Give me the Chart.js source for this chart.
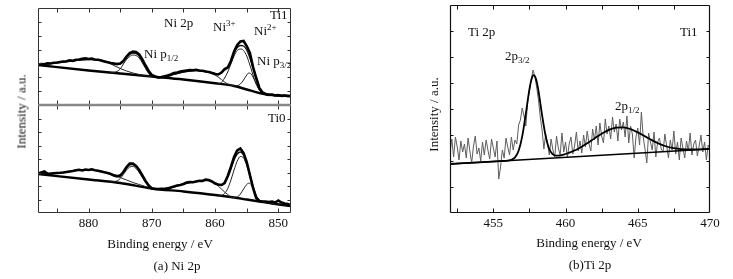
<!DOCTYPE html>
<html lang="en">
  <head>
    <meta charset="UTF-8" />
    <title>XPS Ni 2p / Ti 2p</title>
    <script src="https://cdn.jsdelivr.net/npm/chart.js"></script>
    <style>
      body { margin: 0; background: #fff; }
      .page {
        position: relative;
        width: 733px;
        height: 279px;
        overflow: hidden;
        background: #fff;
        font-family: "Liberation Serif", "Times New Roman", serif;
        color: #111;
      }
      .page canvas { position: absolute; }
      .lbl {
        position: absolute;
        font-size: 13px;
        line-height: 13px;
        white-space: nowrap;
      }
      .lbl sub, .lbl sup { font-size: 9px; line-height: 0; }
      .lbl sub { vertical-align: -3px; }
      .lbl sup { vertical-align: 5px; }
      .center { text-align: center; width: 200px; }
      .ytitle { text-align: center; width: 120px; transform: rotate(-90deg); }
    </style>
  </head>
  <body>
    <div class="page">
      <canvas id="ni1" width="273" height="115" style="left:28px;top:0px"></canvas>
      <canvas id="ni0" width="273" height="137" style="left:28px;top:100px"></canvas>
      <canvas id="ti" width="293" height="240" style="left:440px;top:0px"></canvas>

      <div class="lbl ytitle" style="left:-39px;top:105px">Intensity / a.u.</div>
      <div class="lbl" style="left:164px;top:16px">Ni 2p</div>
      <div class="lbl" style="left:213px;top:20px">Ni<sup>3+</sup></div>
      <div class="lbl" style="left:254px;top:24px">Ni<sup>2+</sup></div>
      <div class="lbl" style="left:270px;top:8px">Ti1</div>
      <div class="lbl" style="left:144px;top:47px">Ni p<sub>1/2</sub></div>
      <div class="lbl" style="left:257px;top:54px">Ni p<sub>3/2</sub></div>
      <div class="lbl" style="left:268px;top:111px">Ti0</div>
      <div class="lbl center" style="left:60px;top:237px">Binding energy / eV</div>
      <div class="lbl center" style="left:77px;top:259px">(a) Ni 2p</div>

      <div class="lbl ytitle" style="left:373px;top:108px">Intensity / a.u.</div>
      <div class="lbl" style="left:468px;top:25px">Ti 2p</div>
      <div class="lbl" style="left:680px;top:25px">Ti1</div>
      <div class="lbl" style="left:505px;top:49px">2p<sub>3/2</sub></div>
      <div class="lbl" style="left:615px;top:99px">2p<sub>1/2</sub></div>
      <div class="lbl center" style="left:489px;top:236px">Binding energy / eV</div>
      <div class="lbl center" style="left:490px;top:258px">(b)Ti 2p</div>
    </div>

    <script>
      // ---- Ni 2p, sample Ti1 (upper panel), scan 848..888 eV every 0.5 eV
      const ti1Data = [
        9, 9, 9.5, 9, 10, 9.5, 10.5, 10, 11, 12.5,
        17, 27, 38, 52, 59, 64, 63.5, 60, 53.5, 44,
        37.5, 36, 32.5, 30.5, 31, 32, 33, 33.5, 34.3, 34.5,
        35.2, 34.7, 35, 34.5, 34, 33.5, 32.5, 32, 30.5, 29.5,
        28.7, 28, 27.5, 28.5, 30, 34, 39.5, 45.5, 50.5, 53,
        53.5, 52, 48.5, 44, 41.5, 41, 41.5, 42, 42.7, 43.5,
        44.5, 45.2, 45.5, 46.5, 46, 46.7, 46.2, 45.5, 45.2, 44.2,
        44.7, 43.8, 43.5, 43, 42.5, 42.2, 41.5, 41.8, 40.7, 41,
        40.5
      ];
      const fitE = [848, 850, 851, 852, 852.5, 853, 853.5, 854, 854.5, 855,
        855.5, 856, 856.5, 857, 857.5, 858, 858.5, 859, 859.5, 860,
        861, 862, 863, 864, 865, 866, 867, 868, 869, 870,
        870.5, 871, 871.5, 872, 872.5, 873, 873.5, 874, 874.5, 875,
        875.5, 876, 877, 878, 880, 882, 884, 886, 888];
      const ti1Fit = [9, 9.5, 10, 10.5, 12, 17, 26, 37, 47, 55,
        59, 59.5, 57.5, 52, 43, 37.5, 35, 32, 31, 31.5,
        33, 34, 34.5, 34, 33, 31.5, 29.5, 28, 27.5, 29,
        32.5, 38, 44, 49, 51.5, 52, 50.5, 47.5, 44, 41,
        40.5, 41, 43, 44.5, 45.5, 44.5, 43, 41.5, 40.5];
      const bgE = [848, 851, 853, 855, 857, 860, 865, 870, 875, 880, 888];
      const ti1Bg = [9, 10, 12, 15.5, 19, 21.7, 25.5, 28.5, 31.5, 34.5, 40];
      const satAE = [870, 871, 872, 873, 874, 875, 876, 877, 878, 880, 882, 884, 886, 888];
      const ti1SatA = [28.5, 29.2, 30.5, 32, 34, 36.5, 39.5, 42.5, 44.5, 45.5, 44.5, 43, 41.5, 40.3];
      const p12E = [870, 870.5, 871, 871.5, 872, 872.5, 873, 873.5, 874, 874.5, 875, 875.5, 876, 876.5];
      const ti1P12 = [28.5, 31.5, 36.5, 42, 47, 49.5, 50, 48.5, 45.5, 41, 36, 33.5, 32.7, 32.4];
      const satBE = [857, 857.5, 858, 858.5, 859, 860, 861, 862, 863, 864, 865, 866, 867, 868, 869];
      const ti1SatB = [19, 20, 21, 23, 25.5, 30, 33, 34, 34.5, 34, 33, 31.5, 30, 28.5, 27.9];
      const mainE = [852.5, 853, 853.5, 854, 854.5, 855, 855.5, 856, 856.5, 857, 857.5, 858, 858.5, 859, 859.5];
      const ti1Main = [11.5, 15, 21, 30, 40, 49, 54.5, 56, 54.5, 49, 41, 33, 27, 22.5, 21.3];
      const smallE = [852.5, 853, 853.5, 854, 854.3, 854.7, 855, 855.5, 856, 856.5, 857];
      const ti1Small = [12.5, 15, 21, 28, 31, 32, 30, 25, 21, 19.2, 19];

      // ---- Ni 2p, sample Ti0 (lower panel)
      const ti0Data = [
        7.5, 9, 9.5, 10.5, 12.5, 10.5, 11.5, 11, 11.5, 11.5,
        12, 15, 25, 38, 51, 60, 64.5, 62.5, 56, 46,
        37, 30, 28, 28.5, 29.5, 31.5, 33, 33.5, 32, 32.3,
        31.5, 30.7, 31, 30.5, 29, 28, 27.5, 26.5, 25.5, 24.5,
        24, 24.2, 24, 24, 24.5, 27.5, 32, 37.5, 43, 47,
        49.5, 49.5, 46, 41, 37.5, 36.5, 37.5, 39, 40, 40.7,
        41.5, 42.2, 42.8, 43.7, 43, 43.5, 42.5, 43.2, 42.7, 42,
        41.5, 41, 40.5, 40.2, 40, 39.7, 39.2, 39.5, 41.5, 40.5,
        39.5
      ];
      const ti0Fit = [7, 8.8, 9.5, 10.5, 11, 12.5, 17, 27, 39, 50,
        58, 61, 59, 53, 44, 36, 30.5, 28, 28.5, 30,
        32.5, 32.5, 31.5, 30.5, 29, 27, 25.5, 24.5, 24, 25,
        27.5, 31.5, 37, 42.5, 46.5, 48.5, 48, 45, 41, 38,
        37.5, 38, 40, 41.5, 43.3, 42.5, 40.5, 39.5, 39.3];
      const ti0Bg = [7, 9.5, 11.5, 13.5, 15.5, 18, 21.5, 24.5, 30, 33.5, 39];
      const ti0SatA = [25, 26.5, 28.5, 30.5, 33, 35.5, 38.2, 40, 41.5, 43.3, 42.5, 40.5, 39.5, 39.3];
      const ti0P12 = [24.5, 27, 30.5, 35.5, 40.5, 44.5, 46.5, 46, 43, 38.5, 34.5, 32, 31.6, 31.4];
      const ti0SatB = [15.5, 16, 18.5, 21, 24, 29.5, 32.5, 32.5, 31.5, 30.5, 29, 27, 25.5, 24.5, 24];
      const ti0Main = [11, 12.5, 16.5, 25, 36.5, 47.5, 55, 56.5, 52, 43, 33, 24.5, 19.5, 17.3, 17];
      const ti0Small = [11, 12.5, 17, 25, 28.5, 29.8, 28.5, 24, 19, 16, 15.5];

      // ---- Ti 2p, sample Ti1, scan 452..470 eV every 0.125 eV
      const tiData = [
        60, 74, 56, 76, 66, 53, 72, 61,
        69, 55, 75, 62, 50, 67, 77, 59,
        65, 52, 71, 58, 73, 63, 54, 74,
        65, 56, 72, 34, 46, 63, 55, 75,
        66, 58, 76, 63, 73, 69, 88, 93,
        105, 97, 87, 111, 122, 134, 143, 136,
        126, 113, 96, 83, 64, 79, 69, 58,
        74, 63, 56, 77, 65, 58, 80, 61,
        71, 55, 69, 76, 59, 67, 81, 62,
        72, 60, 78, 66, 82, 69, 62, 84,
        73, 87, 68, 90, 77, 70, 94, 79,
        87, 74, 96, 81, 89, 72, 94, 83,
        91, 76, 97, 70, 87, 79, 55, 76,
        85, 68, 101, 76, 64, 50, 80, 71,
        63, 81, 56, 71, 75, 64, 61, 79,
        67, 55, 73, 63, 82, 59, 71, 53,
        75, 65, 55, 72, 62, 80, 58, 69,
        73, 57, 67, 78, 61, 71, 53, 68,
        64
      ];
      const tiFitE = [452, 454, 455.5, 456, 456.25, 456.5, 456.75, 457, 457.25, 457.5,
        457.65, 457.8, 457.95, 458.1, 458.35, 458.6, 458.85, 459.1, 459.35, 459.6,
        460, 460.5, 461, 461.5, 462, 462.5, 463, 463.5, 464, 464.5,
        465, 465.5, 466, 466.5, 467, 467.5, 468, 468.5, 469, 470];
      const tiFit = [49, 50.7, 51.9, 52.4, 53.2, 55.6, 62.2, 76.6, 99.3, 123.8,
        134, 137.8, 134.2, 124.3, 100.2, 78.4, 64.7, 58.8, 57.3, 57.4,
        59, 61.7, 65.3, 69.7, 74.6, 79.3, 83.2, 85.4, 85.6, 83.9,
        80.6, 76.6, 72.6, 69.1, 66.5, 64.8, 63.9, 63.5, 63.6, 64.1];
      const tiBgE = [452, 470];
      const tiBg = [49, 64];

      const niLabels = [850, 860, 870, 880];
      const tiLabels = [455, 460, 465, 470];
      const niTicks = [850, 855, 860, 865, 870, 875, 880, 885];
      const tiTicks = [452.5, 455, 457.5, 460, 462.5, 465, 467.5];

      Chart.defaults.font.family = '"Liberation Serif", "Times New Roman", serif';
      Chart.defaults.font.size = 13;
      Chart.defaults.color = "#111";
      Chart.defaults.animation = false;

      function scan(start, step, n) {
        const out = [];
        for (let i = 0; i < n; i++) out.push(+(start + i * step).toFixed(3));
        return out;
      }
      function pts(xs, ys) {
        return xs.map((x, i) => ({ x: x, y: ys[i] }));
      }
      function line(xs, ys, width, color, smooth) {
        return {
          data: pts(xs, ys),
          borderColor: color,
          borderWidth: width,
          pointRadius: 0,
          fill: false,
          tension: 0,
          cubicInterpolationMode: smooth ? "monotone" : "default",
        };
      }

      // box + inward ticks on all four sides
      function frame(opt) {
        return {
          id: "frame",
          afterDatasetsDraw(chart) {
            const ctx = chart.ctx;
            const a = chart.chartArea;
            const sx = chart.scales.x;
            const L = Math.round(a.left) + 0.5;
            const R = Math.round(a.right) - 0.5;
            const T = Math.round(a.top) + 0.5;
            const B = Math.round(a.bottom) - 0.5;
            ctx.save();
            ctx.lineWidth = 1;
            ctx.strokeStyle = opt.color;
            ctx.beginPath();
            opt.xTicks.forEach((v) => {
              const p = Math.round(sx.getPixelForValue(v)) + 0.5;
              ctx.moveTo(p, B);
              ctx.lineTo(p, B - opt.tick);
              ctx.moveTo(p, T);
              ctx.lineTo(p, T + opt.tick);
            });
            for (let i = 1; i < opt.yDiv; i++) {
              const p = Math.round(a.top + ((a.bottom - a.top) * i) / opt.yDiv) + 0.5;
              ctx.moveTo(L, p);
              ctx.lineTo(L + 3, p);
              ctx.moveTo(R, p);
              ctx.lineTo(R - 3, p);
            }
            ctx.stroke();

            const edge = (x1, y1, x2, y2, c, w) => {
              ctx.beginPath();
              ctx.strokeStyle = c;
              ctx.lineWidth = w;
              ctx.moveTo(x1, y1);
              ctx.lineTo(x2, y2);
              ctx.stroke();
            };
            edge(L, T, R, T, opt.topColor || opt.color, opt.topWidth || opt.width);
            edge(L, B, R, B, opt.bottomColor || opt.color, opt.bottomWidth || opt.width);
            edge(L, T, L, B, opt.color, opt.width);
            edge(R, T, R, B, opt.color, opt.width);
            ctx.restore();
          },
        };
      }

      // x axis with tick labels only; fixed height so the plot box lands where wanted
      function labelAxis(min, max, labels, reverse, show) {
        return {
          type: "linear",
          min: min,
          max: max,
          reverse: reverse,
          display: show,
          grid: { display: false, drawTicks: false },
          border: { display: false },
          afterBuildTicks: (axis) => {
            axis.ticks = labels.map((v) => ({ value: v }));
          },
          afterFit: (axis) => {
            axis.height = show ? 20 : 0;
          },
          ticks: {
            padding: 4,
            maxRotation: 0,
            font: { size: 13, lineHeight: 1 },
            color: "#111",
          },
        };
      }

      const niE = scan(848, 0.5, 81);
      const tiE = scan(452, 0.125, 145);

      function niChart(id, d, padding, ymax, showX, opt) {
        return new Chart(document.getElementById(id), {
          type: "line",
          data: {
            datasets: [
              line(niE, d.data, 2.6, "#000", false),
              line(fitE, d.fit, 1.3, "#111", true),
              line(satAE, d.satA, 1, "#222", true),
              line(p12E, d.p12, 1, "#222", true),
              line(satBE, d.satB, 1, "#222", true),
              line(mainE, d.main, 1, "#222", true),
              line(smallE, d.small, 1, "#222", true),
              line(bgE, d.bg, 2.4, "#000", true),
            ],
          },
          options: {
            responsive: false,
            events: [],
            layout: { padding: padding },
            plugins: { legend: { display: false }, tooltip: { enabled: false } },
            scales: {
              x: labelAxis(848, 888, niLabels, true, showX),
              y: { type: "linear", display: false, min: 0, max: ymax },
            },
          },
          plugins: [frame(opt)],
        });
      }

      niChart(
        "ni1",
        { data: ti1Data, fit: ti1Fit, satA: ti1SatA, p12: ti1P12, satB: ti1SatB,
          main: ti1Main, small: ti1Small, bg: ti1Bg },
        { left: 10, top: 8, right: 10, bottom: 10 },
        97,
        false,
        { xTicks: niTicks, yDiv: 7, tick: 4, color: "#333", width: 1,
          bottomColor: "#888", bottomWidth: 1.5 }
      );
      niChart(
        "ni0",
        { data: ti0Data, fit: ti0Fit, satA: ti0SatA, p12: ti0P12, satB: ti0SatB,
          main: ti0Main, small: ti0Small, bg: ti0Bg },
        { left: 10, top: 5, right: 10, bottom: 4 },
        108,
        true,
        { xTicks: niTicks, yDiv: 8, tick: 4, color: "#333", width: 1,
          topColor: "#888", topWidth: 1.5 }
      );

      new Chart(document.getElementById("ti"), {
        type: "line",
        data: {
          datasets: [
            line(tiFitE, tiFit, 1.8, "#000", true),
            line(tiBgE, tiBg, 1.6, "#000", false),
            line(tiE, tiData, 1, "#5e5e5e", false),
          ],
        },
        options: {
          responsive: false,
          events: [],
          layout: { padding: { left: 10, top: 5, right: 23, bottom: 7 } },
          plugins: { legend: { display: false }, tooltip: { enabled: false } },
          scales: {
            x: labelAxis(452, 470, tiLabels, false, true),
            y: { type: "linear", display: false, min: 0, max: 208 },
          },
        },
        plugins: [frame({ xTicks: tiTicks, yDiv: 8, tick: 4, color: "#111", width: 1.2 })],
      });
    </script>
  </body>
</html>
